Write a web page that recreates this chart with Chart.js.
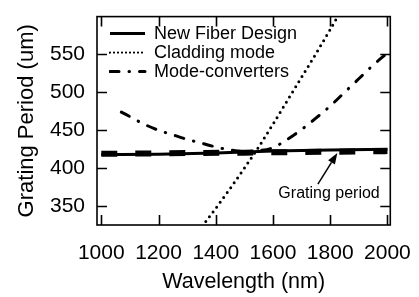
<!DOCTYPE html>
<html>
<head>
<meta charset="utf-8">
<script src="https://cdn.jsdelivr.net/npm/chart.js@4/dist/chart.umd.min.js"></script>
<style>
  html, body { margin: 0; padding: 0; background: #fff; }
  #wrap { width: 419px; height: 297px; }
</style>
</head>
<body>
<div id="wrap"><canvas id="chart" width="419" height="297"></canvas></div>
<script>
// values
const xTicks = [1000, 1200, 1400, 1600, 1800, 2000];
const yTicks = [350, 400, 450, 500, 550];

const fiberX = [1000, 1200, 1400, 1600, 1800, 2000];
const fiberY = [418, 418.5, 420, 422.5, 424, 425];

const gratingX = [1000, 1500, 2000];
const gratingY = [419, 420.5, 422.5];

const claddingX = [1340, 1400, 1450, 1500, 1550, 1600, 1650, 1700, 1750, 1800, 1850];
const claddingY = [317, 347, 373, 400, 428, 458, 489, 520, 551, 583, 616];

const converterX = [1070, 1100, 1150, 1200, 1250, 1300, 1350, 1400, 1450, 1500, 1550, 1600, 1650, 1700, 1750, 1800, 1850, 1900, 1950, 2000];
const converterY = [474, 468, 458, 450, 444, 438, 433, 428, 424, 422, 423, 427, 438, 451, 466, 482, 500, 518, 536, 552];

const annotation = { text: 'Grating period', x: 1796, y: 366, arrowFrom: [1757, 379], arrowTo: [1825, 420] };

const FONT = '"Liberation Sans", Arial, sans-serif';

function points(xs, ys) {
    return xs.map((x, i) => ({ x: x, y: ys[i] }));
}

// frame with inward ticks on all four sides, plus the arrow note
const framePlugin = {
    id: 'frame',
    afterLayout(chart) {
        const a = chart.chartArea;
        const lg = chart.legend;
        if (lg) {
            lg.left = a.left + 12;
            lg.top = a.top + 7;
            lg.right = a.right;
            lg.bottom = a.bottom;
        }
    },
    afterDraw(chart) {
        const ctx = chart.ctx;
        const a = chart.chartArea;
        const xs = chart.scales.x;
        const ys = chart.scales.y;
        const tl = 10;
        ctx.save();
        ctx.strokeStyle = '#000';
        ctx.lineWidth = 1.6;
        ctx.strokeRect(a.left, a.top, a.right - a.left, a.bottom - a.top);
        ctx.beginPath();
        xTicks.forEach(v => {
            const px = Math.round(xs.getPixelForValue(v)) + 0.5;
            ctx.moveTo(px, a.bottom); ctx.lineTo(px, a.bottom - tl);
            ctx.moveTo(px, a.top); ctx.lineTo(px, a.top + tl);
        });
        yTicks.forEach(v => {
            const py = Math.round(ys.getPixelForValue(v)) + 0.5;
            ctx.moveTo(a.left, py); ctx.lineTo(a.left + tl, py);
            ctx.moveTo(a.right, py); ctx.lineTo(a.right - tl, py);
        });
        ctx.stroke();

        // note and arrow
        const x0 = xs.getPixelForValue(annotation.arrowFrom[0]);
        const y0 = ys.getPixelForValue(annotation.arrowFrom[1]);
        const x1 = xs.getPixelForValue(annotation.arrowTo[0]);
        const y1 = ys.getPixelForValue(annotation.arrowTo[1]);
        const ang = Math.atan2(y1 - y0, x1 - x0);
        const hl = 11, hw = 4;
        ctx.lineWidth = 1.5;
        ctx.beginPath();
        ctx.moveTo(x0, y0);
        ctx.lineTo(x1 - Math.cos(ang) * hl, y1 - Math.sin(ang) * hl);
        ctx.stroke();
        ctx.beginPath();
        ctx.moveTo(x1, y1);
        ctx.lineTo(x1 - Math.cos(ang) * hl - Math.sin(ang) * hw, y1 - Math.sin(ang) * hl + Math.cos(ang) * hw);
        ctx.lineTo(x1 - Math.cos(ang) * hl + Math.sin(ang) * hw, y1 - Math.sin(ang) * hl - Math.cos(ang) * hw);
        ctx.closePath();
        ctx.fillStyle = '#000';
        ctx.fill();

        ctx.font = '16px ' + FONT;
        ctx.textAlign = 'center';
        ctx.textBaseline = 'middle';
        ctx.fillText(annotation.text, xs.getPixelForValue(annotation.x), ys.getPixelForValue(annotation.y));
        ctx.restore();
    }
};

const lineBase = { borderColor: '#000', backgroundColor: '#000', pointRadius: 0, fill: false, cubicInterpolationMode: 'monotone', clip: 0 };

new Chart(document.getElementById('chart'), {
    type: 'line',
    data: {
        datasets: [
            Object.assign({}, lineBase, { label: 'New Fiber Design', data: points(fiberX, fiberY), borderWidth: 3 }),
            Object.assign({}, lineBase, { label: 'Cladding mode', data: points(claddingX, claddingY), borderWidth: 3, borderDash: [0, 6], borderCapStyle: 'round' }),
            Object.assign({}, lineBase, { label: 'Mode-converters', data: points(converterX, converterY), borderWidth: 3, borderDash: [9, 10, 0.5, 10], borderCapStyle: 'round' }),
            Object.assign({}, lineBase, { label: 'Grating period', data: points(gratingX, gratingY), borderWidth: 6, borderDash: [16, 18], borderCapStyle: 'butt' })
        ]
    },
    options: {
        responsive: false,
        animation: false,
        layout: { padding: { top: 7, right: 22, left: 0, bottom: 0 } },
        plugins: {
            tooltip: { enabled: false },
            legend: {
                position: 'chartArea',
                align: 'start',
                labels: {
                    usePointStyle: true,
                    pointStyleWidth: 35,
                    padding: 1,
                    color: '#000',
                    font: { family: FONT, size: 18 },
                    filter: item => item.text !== 'Grating period',
                    generateLabels(chart) {
                        return chart.data.datasets.map((ds, i) => ({
                            text: ds.label,
                            datasetIndex: i,
                            pointStyle: 'line',
                            strokeStyle: '#000',
                            fillStyle: '#000',
                            fontColor: '#000',
                            lineWidth: i === 1 ? 2.2 : ds.borderWidth,
                            lineDash: i === 1 ? [0, 4] : (ds.borderDash || []),
                            lineCap: ds.borderCapStyle || 'butt',
                            hidden: false
                        }));
                    }
                }
            }
        },
        scales: {
            x: {
                type: 'linear',
                min: 985,
                max: 2010,
                afterBuildTicks: s => { s.ticks = xTicks.map(v => ({ value: v })); },
                afterFit: s => { s.height = 72; },
                grid: { display: false },
                border: { display: false },
                ticks: { color: '#000', padding: 8, maxRotation: 0, callback: v => String(v), font: { family: FONT, size: 21 } },
                title: { display: true, text: 'Wavelength (nm)', color: '#000', padding: { top: 0, bottom: 2 }, font: { family: FONT, size: 21.5 } }
            },
            y: {
                min: 325,
                max: 600,
                afterBuildTicks: s => { s.ticks = yTicks.map(v => ({ value: v })); },
                afterFit: s => { s.width = 97; },
                grid: { display: false },
                border: { display: false },
                ticks: { color: '#000', padding: 4, callback: v => String(v), font: { family: FONT, size: 21 } },
                title: { display: true, text: 'Grating Period (um)', color: '#000', padding: { top: 14, bottom: 0 }, font: { family: FONT, size: 22 } }
            }
        }
    },
    plugins: [framePlugin]
});
</script>
</body>
</html>
